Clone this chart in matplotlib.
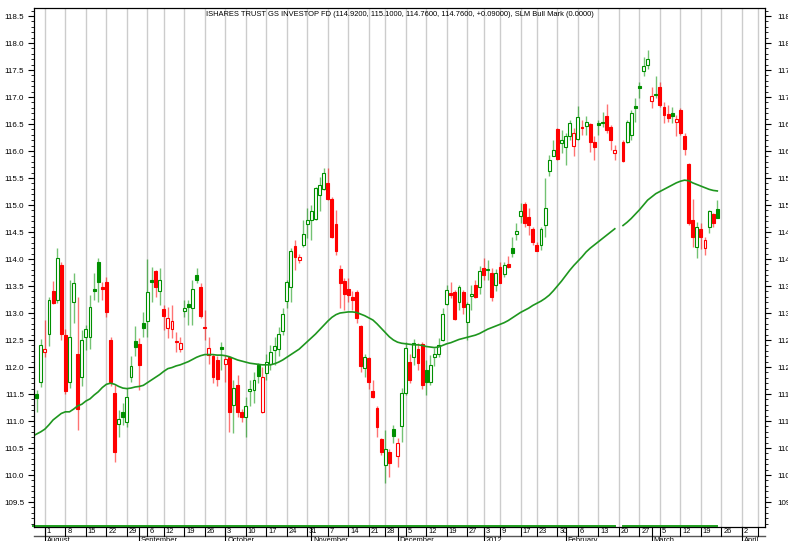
import numpy as np
import matplotlib
matplotlib.use("Agg")
import matplotlib.pyplot as plt
from matplotlib.patches import Rectangle
from matplotlib.ticker import MultipleLocator, FormatStrFormatter
import pandas as pd

plt.rcParams['font.family'] = ['Liberation Sans', 'DejaVu Sans']

NaN = float('nan')

# ---- data -------------------------------------------------------------
title = ("ISHARES TRUST GS INVESTOP FD (114.9200, 115.1000, 114.7600, "
         "114.7600, +0.09000), SLM Bull Mark (0.0000)")

holidays = ['2011-09-05', '2011-11-24', '2011-12-26', '2012-01-02', '2012-01-16', '2012-04-06']
first_day = '2011-07-27'
last_axis_day = '2012-04-13'

opens = [NaN,
 111.50, 111.73, 112.27, 112.62, 113.41, 113.24, 113.89, 112.60, 111.73, 113.20,
 112.24, 111.81, 112.56, 112.55, 113.44, 113.95, 113.48, 113.57, 112.50, 111.52,
 110.94, 111.17, 110.99, 111.81, 112.49, 112.42, 112.82, 112.86, 113.62, 113.77,
 113.41, 113.07, 112.72, 112.70, 112.48, 112.33, 113.03, 113.16, 113.10, 113.70,
 113.49, 112.75, 112.22, 112.20, 112.13, 112.37, 112.06, 112.18, 111.30, 111.67,
 111.17, 111.08, 111.56, 111.57, 112.04, 111.17, 111.88, 112.05, 112.31, 112.33,
 112.67, 113.23, 113.49, 114.24, 113.98, 114.26, 114.65, 114.72, 114.75, 115.19,
 115.29, 115.41, 115.12, 114.65, 113.81, 113.60, 113.44, 113.30, 113.39, 112.76,
 111.99, 112.16, 111.56, 111.25, 110.66, 110.19, 110.43, 110.85, 110.35, 110.90,
 111.52, 112.10, 112.19, 112.33, 112.42, 111.94, 111.73, 112.18, 112.24, 112.50,
 113.17, 113.37, 113.39, 113.21, 113.38, 112.84, 113.31, 113.52, 113.48, 113.83,
 113.81, 113.74, 113.52, 113.85, 113.72, 113.91, 114.20, 114.46, 114.80, 115.02,
 114.78, 114.55, 114.26, 114.26, 114.63, 115.63, 115.91, 116.40, 116.14, 116.08,
 116.28, 116.09, 116.22, 116.44, 116.46, 116.50, 116.17, 116.51, 116.51, 116.65,
 116.44, 115.97, NaN, 116.17, 116.17, 116.30, 116.83, 117.20, 117.49, 117.59,
 116.93, 117.06, 117.18, 116.82, 116.69, 116.71, 116.54, 116.76, 116.28, 115.76,
 114.73, 114.22, 114.56, 114.20, 114.59, 114.83, 114.92]

highs = [NaN,
 111.58, 112.52, 112.87, 113.30, 113.60, 114.20, 113.95, 112.70, 113.62, 113.75,
 113.30, 112.69, 112.78, 113.33, 113.75, 114.01, 113.58, 113.67, 112.56, 111.67,
 111.20, 111.33, 111.61, 112.20, 112.76, 112.53, 113.02, 114.00, 113.86, 113.80,
 113.83, 113.15, 113.12, 113.15, 112.65, 112.55, 113.24, 113.24, 113.62, 113.83,
 113.56, 113.06, 112.55, 112.25, 112.20, 112.47, 112.22, 112.20, 111.76, 111.85,
 111.23, 111.45, 111.76, 111.91, 112.07, 112.00, 112.25, 112.40, 112.56, 112.75,
 113.10, 113.62, 114.20, 114.35, 114.10, 114.72, 114.94, 115.00, 115.34, 115.52,
 115.68, 115.68, 115.15, 114.91, 113.89, 113.64, 113.64, 113.40, 113.43, 112.78,
 112.24, 112.19, 111.76, 111.27, 110.68, 110.83, 110.49, 110.93, 110.68, 111.61,
 112.47, 112.25, 112.51, 112.44, 112.47, 112.13, 112.22, 112.35, 112.53, 113.09,
 113.52, 113.58, 113.43, 113.52, 113.43, 113.21, 113.52, 113.61, 113.87, 114.01,
 113.98, 113.83, 113.81, 113.95, 113.95, 114.06, 114.40, 114.66, 115.03, 115.06,
 114.94, 114.60, 114.32, 114.60, 115.50, 115.93, 116.20, 116.42, 116.39, 116.33,
 116.57, 116.42, 116.83, 116.57, 116.65, 116.51, 116.27, 116.57, 116.73, 116.87,
 116.48, 116.11, NaN, 116.20, 116.57, 116.76, 116.98, 117.28, 117.75, 117.87,
 117.19, 117.38, 117.28, 116.91, 116.85, 116.82, 116.67, 116.79, 116.33, 115.77,
 115.12, 114.69, 114.66, 114.41, 114.91, 114.86, 115.10]

lows = [NaN,
 111.17, 111.63, 112.19, 112.38, 113.17, 113.19, 112.50, 111.50, 111.62, 112.81,
 110.83, 111.64, 112.31, 112.33, 113.24, 113.21, 113.24, 112.93, 111.64, 110.25,
 110.71, 110.93, 110.89, 111.73, 112.20, 111.57, 112.55, 112.55, 113.21, 113.30,
 113.15, 112.69, 112.53, 112.53, 112.28, 112.28, 112.93, 112.78, 112.78, 113.55,
 112.90, 112.50, 112.05, 111.70, 111.65, 111.94, 111.73, 110.80, 110.77, 111.08,
 110.99, 110.70, 111.27, 111.33, 111.70, 111.14, 111.76, 111.95, 112.04, 112.20,
 112.60, 113.10, 113.20, 113.80, 113.92, 114.23, 114.38, 114.36, 114.72, 114.88,
 115.28, 115.09, 114.38, 114.07, 113.09, 113.06, 113.21, 113.06, 112.81, 111.91,
 111.82, 111.60, 111.42, 110.70, 110.37, 109.85, 109.97, 110.59, 110.15, 110.62,
 111.48, 111.70, 112.04, 111.94, 111.60, 111.48, 111.67, 112.01, 112.19, 112.49,
 113.15, 113.27, 112.87, 113.06, 112.99, 112.50, 113.06, 113.27, 113.35, 113.61,
 113.61, 113.23, 113.40, 113.55, 113.67, 113.83, 114.03, 114.35, 114.66, 114.60,
 114.44, 114.26, 114.14, 114.17, 114.41, 115.53, 115.90, 115.83, 115.96, 115.74,
 116.20, 115.90, 116.20, 116.30, 116.30, 115.99, 115.83, 116.30, 116.45, 116.33,
 116.02, 115.83, NaN, 115.80, 116.14, 116.20, 116.54, 116.98, 117.38, 117.51,
 116.79, 116.98, 116.82, 116.51, 116.54, 116.51, 116.27, 116.30, 115.93, 114.63,
 114.23, 114.01, 114.18, 114.07, 114.48, 114.60, 114.76]

closes = [NaN,
 111.42, 112.41, 112.33, 113.24, 113.19, 114.01, 112.62, 111.55, 112.56, 113.56,
 111.23, 112.50, 112.71, 113.12, 113.40, 113.57, 113.44, 113.01, 111.73, 110.43,
 111.03, 111.08, 111.45, 112.02, 112.37, 112.04, 112.72, 113.38, 113.58, 113.49,
 113.61, 112.95, 112.90, 112.86, 112.46, 112.44, 113.09, 113.12, 113.45, 113.61,
 112.95, 112.72, 112.35, 111.82, 111.77, 112.33, 112.14, 111.16, 111.62, 111.17,
 111.08, 111.28, 111.60, 111.76, 111.84, 111.82, 112.10, 112.28, 112.38, 112.62,
 112.99, 113.57, 114.14, 114.04, 114.03, 114.46, 114.72, 114.89, 115.31, 115.37,
 115.59, 115.12, 114.41, 114.14, 113.56, 113.35, 113.33, 113.24, 112.90, 112.01,
 112.18, 111.73, 111.44, 110.88, 110.43, 110.48, 110.23, 110.73, 110.60, 111.52,
 112.36, 111.76, 112.45, 112.07, 111.67, 111.72, 112.04, 112.24, 112.41, 112.98,
 113.43, 113.34, 112.88, 113.48, 113.12, 113.17, 113.36, 113.30, 113.78, 113.70,
 113.79, 113.29, 113.74, 113.56, 113.89, 113.85, 114.12, 114.52, 114.88, 114.66,
 114.63, 114.32, 114.15, 114.55, 114.95, 115.84, 116.02, 115.86, 116.20, 116.27,
 116.51, 116.34, 116.63, 116.42, 116.54, 116.17, 116.07, 116.48, 116.54, 116.39,
 116.20, 116.02, NaN, 115.82, 116.54, 116.70, 116.79, 117.17, 117.58, 117.70,
 117.02, 117.03, 116.85, 116.67, 116.62, 116.65, 116.59, 116.34, 116.03, 114.66,
 114.40, 114.59, 114.41, 114.36, 114.88, 114.67, 114.76]

sma = [110.72,
 110.76, 110.80, 110.85, 110.93, 111.02, 111.08, 111.14, 111.17, 111.17, 111.22,
 111.28, 111.31, 111.37, 111.41, 111.48, 111.54, 111.62, 111.68, 111.70, 111.68,
 111.64, 111.61, 111.60, 111.61, 111.63, 111.64, 111.66, 111.71, 111.76, 111.81,
 111.86, 111.92, 111.97, 111.99, 112.02, 112.04, 112.07, 112.10, 112.14, 112.18,
 112.21, 112.23, 112.23, 112.23, 112.22, 112.22, 112.21, 112.19, 112.16, 112.13,
 112.11, 112.09, 112.07, 112.06, 112.05, 112.04, 112.04, 112.04, 112.06, 112.09,
 112.13, 112.18, 112.23, 112.28, 112.33, 112.40, 112.47, 112.54, 112.61, 112.69,
 112.77, 112.85, 112.92, 112.97, 113.00, 113.01, 113.02, 113.02, 113.01, 112.98,
 112.95, 112.91, 112.87, 112.80, 112.72, 112.64, 112.56, 112.50, 112.46, 112.44,
 112.43, 112.42, 112.41, 112.41, 112.40, 112.38, 112.37, 112.36, 112.37, 112.40,
 112.43, 112.45, 112.48, 112.51, 112.53, 112.55, 112.57, 112.59, 112.62, 112.66,
 112.70, 112.73, 112.76, 112.79, 112.82, 112.86, 112.91, 112.96, 113.01, 113.05,
 113.09, 113.14, 113.18, 113.22, 113.27, 113.33, 113.41, 113.50, 113.59, 113.69,
 113.79, 113.88, 113.96, 114.04, 114.13, 114.20, 114.26, 114.32, 114.38, 114.44,
 114.50, 114.56, NaN, 114.62, 114.68, 114.75, 114.83, 114.91, 115.00, 115.09,
 115.15, 115.21, 115.25, 115.29, 115.33, 115.37, 115.41, 115.44, 115.46, 115.45,
 115.41, 115.38, 115.35, 115.32, 115.29, 115.27, 115.26]

# SLM Bull Mark indicator (0 on every trading day, missing on 20 Feb 2012)
bull_mark = [0.0 if not np.isnan(c) else NaN for c in sma]

month_names = {8: 'August', 9: 'September', 10: 'October', 11: 'November',
               12: 'December', 1: '2012', 2: 'February', 3: 'March', 4: 'April'}

# ---- figure ------------------------------------------------------------
W, H = 788, 541
fig = plt.figure(figsize=(W / 100, H / 100), dpi=100)
ax_l, ax_r, ax_t, ax_b = 34, 765, 8, 527
ax = fig.add_axes([ax_l / W, 1 - ax_b / H, (ax_r - ax_l) / W, (ax_b - ax_t) / H])

slots = pd.bdate_range(first_day, last_axis_day, freq='C', holidays=holidays)
n = len(closes)
xs = np.arange(n)

px_per_slot = 4.1
x0_px = 32.6
ax.set_xlim((ax_l - x0_px) / px_per_slot, (ax_r - x0_px) / px_per_slot)
ylo = 118.5 - (ax_b - 16) / 54.0
yhi = 118.5 + (16 - ax_t) / 54.0
ax.set_ylim(ylo, yhi)

RED = '#ff0000'
GREEN = '#009000'
FS = 5.4

# weekly grid lines
week_first = []
prev_week = None
for i, d in enumerate(slots):
    wk = d.isocalendar()[1]
    if wk != prev_week:
        week_first.append(i)
        prev_week = wk
for i in week_first:
    ax.axvline(i, color='#cccccc', lw=1.0, zorder=0)

# candles
prev_close = None
bw = 0.72
for i in range(n):
    o, h, l, c = opens[i], highs[i], lows[i], closes[i]
    if np.isnan(c):
        continue
    up = True if prev_close is None else (c >= prev_close)
    col = GREEN if up else RED
    hollow = c > o
    ax.plot([i, i], [l, h], color=col, lw=1.0, alpha=0.55, zorder=2,
            solid_capstyle='butt')
    lo, hi = min(o, c), max(o, c)
    ax.add_patch(Rectangle((i - bw / 2, lo), bw, max(hi - lo, 0.005),
                           facecolor='white' if hollow else col,
                           edgecolor=col, lw=0.8, zorder=3))
    prev_close = c

# moving average
ax.plot(xs, sma, color='#1e961e', lw=1.2, zorder=4)

# bull-mark indicator along the bottom
bm_y = np.asarray(bull_mark) + 1.2 / (ax_b - ax_t)
ax.plot(xs, bm_y, color='#1ea01e', lw=1.4, zorder=5,
        transform=ax.get_xaxis_transform(), clip_on=False)

# y axes (left on ax, right on a twin with its own padding)
def style_y(a, side, pad):
    a.yaxis.set_major_locator(MultipleLocator(0.5))
    a.yaxis.set_minor_locator(MultipleLocator(0.1))
    a.yaxis.set_major_formatter(FormatStrFormatter('%.1f'))
    a.tick_params(axis='y', which='both', direction='out',
                  left=(side == 'left'), right=(side == 'right'),
                  labelleft=(side == 'left'), labelright=(side == 'right'),
                  labelsize=FS + 0.4, pad=pad)
    a.tick_params(axis='y', which='major', length=4, width=0.8)
    a.tick_params(axis='y', which='minor', length=2, width=0.6)


style_y(ax, 'left', 3)
axr = ax.twinx()
axr.set_ylim(ax.get_ylim())
style_y(axr, 'right', 4.6)
ax.tick_params(axis='x', which='both', bottom=False, labelbottom=False)
for a in (ax, axr):
    for s in a.spines.values():
        s.set_linewidth(0.8)
        s.set_color('black')

ax.text(0.5, 1 - 6.5 / (ax_b - ax_t), title, transform=ax.transAxes,
        ha='center', va='center', fontsize=FS)

# date axis below the plot
tr = ax.get_xaxis_transform()
ah = ax_b - ax_t


def ay(py):
    return -(py - ax_b) / ah


ax.plot([0, 1], [ay(536), ay(536)], transform=ax.transAxes, color='#555555',
        lw=1.0, clip_on=False)
xmin, xmax = ax.get_xlim()
for i in week_first:
    if i < xmin or i > xmax:
        continue
    ax.plot([i, i], [ay(527), ay(536)], transform=tr, color='black', lw=0.8,
            clip_on=False)
    if i + 3 < xmax:
        ax.text(i + 0.45, ay(531.8), str(slots[i].day), transform=tr,
                fontsize=FS, ha='left', va='center', clip_on=False)

prev_m = slots[0].month
for i, d in enumerate(slots):
    if d.month != prev_m:
        prev_m = d.month
        if xmin <= i <= xmax:
            ax.plot([i, i], [ay(527), ay(541)], transform=tr, color='black',
                    lw=0.8, clip_on=False)
            ax.text(i + 0.45, ay(536.8), month_names.get(d.month, ''),
                    transform=tr, fontsize=FS, ha='left', va='top',
                    clip_on=False)

fig.savefig('out.png', dpi=100)
